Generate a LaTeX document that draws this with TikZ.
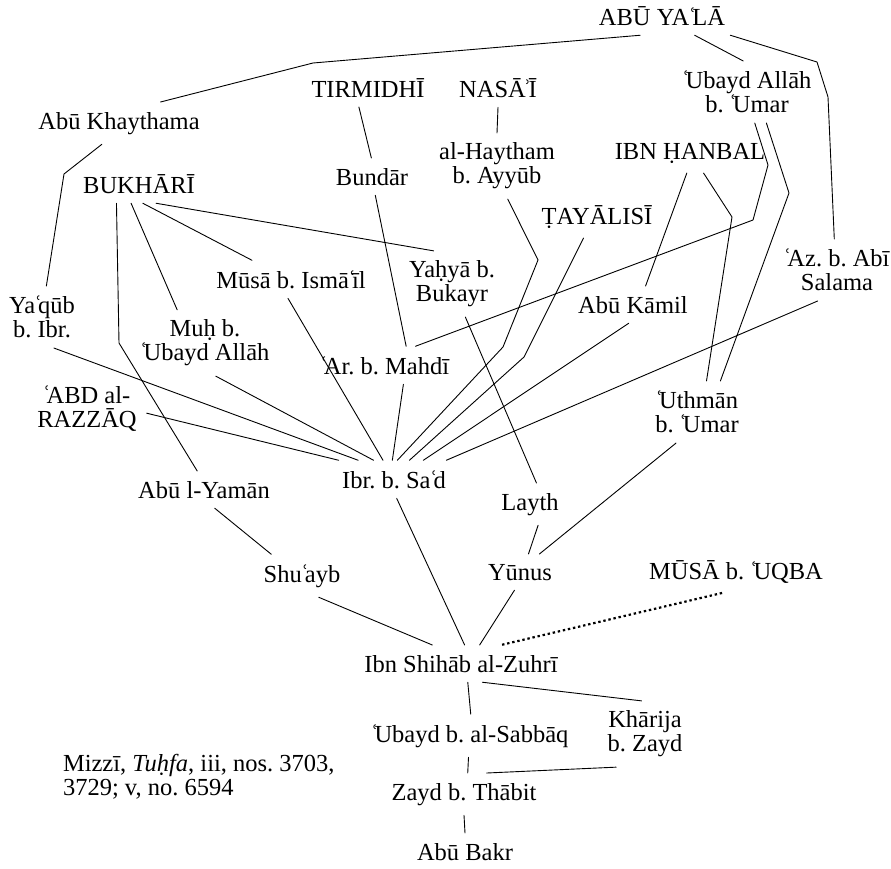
\documentclass[tikz,border=0pt]{standalone}
\usepackage{fontspec}
\setmainfont{Liberation Serif}
\newcommand{\ayn}{\kern-0.04emʿ\kern-0.17em}
\newcommand{\hmz}{\kern-0.1emʾ\kern-0.12em}
\frenchspacing
\begin{document}
\begin{tikzpicture}[
        x=1pt, y=-1pt,
        narrator/.style={font=\fontsize{24.5}{24}\selectfont, inner sep=2pt, outer sep=8pt},
        link/.style={line width=0.9pt, draw=black, line cap=round},
        weak/.style={line width=2.2pt, draw=black, dash pattern=on 2.4pt off 2.8pt}
    ]
        \useasboundingbox (0,0) rectangle (891,868);

        \node[narrator, anchor=base] (abuyala) at (662,25) {ABŪ YA\ayn LĀ};
        \node[narrator, anchor=base] (khaythama) at (119,129) {Abū Khaythama};
        \node[narrator, anchor=base] (tirmidhi) at (368,97) {TIRMIDHĪ};
        \node[narrator, anchor=base] (nasai) at (498,97) {NASĀ\hmz Ī};
        \node[narrator, align=center] (ubaydallah) at (747,92) {\ayn Ubayd Allāh\\b. \ayn Umar};
        \node[narrator, anchor=base] (bundar) at (372,185) {Bundār};
        \node[narrator, align=center] (haytham) at (497,166) {al-Haytham\\b. Ayyūb};
        \node[narrator, anchor=base] (hanbal) at (690,159) {IBN ḤANBAL};
        \node[narrator, anchor=base] (bukhari) at (139,193) {BUKHĀRĪ};
        \node[narrator, anchor=base] (tayalisi) at (597,224) {ṬAYĀLISĪ};
        \node[narrator, anchor=base] (musa) at (291,288) {Mūsā b. Ismā\ayn īl};
        \node[narrator, align=center] (yahya) at (452,284) {Yaḥyā b.\\Bukayr};
        \node[narrator, align=center] (azb) at (837,270) {\ayn Az. b. Abī\\Salama};
        \node[narrator, anchor=base] (kamil) at (633,313) {Abū Kāmil};
        \node[narrator, align=center] (yaqub) at (42,317) {Ya\ayn qūb\\b. Ibr.};
        \node[narrator, align=center] (muh) at (205,343) {Muḥ b.\\\ayn Ubayd Allāh};
        \node[narrator, anchor=base] (mahdi) at (385,374) {\ayn Ar. b. Mahdī};
        \node[narrator, align=center] (razzaq) at (87,409) {\ayn ABD al-\\RAZZĀQ};
        \node[narrator, align=center] (uthman) at (697,412) {\ayn Uthmān\\b. \ayn Umar};
        \node[narrator, anchor=base] (ibr) at (394,488) {Ibr. b. Sa\ayn d};
        \node[narrator, anchor=base] (yaman) at (204,498) {Abū l-Yamān};
        \node[narrator, anchor=base] (layth) at (530,510) {Layth};
        \node[narrator, anchor=base] (shuayb) at (302,582) {Shu\ayn ayb};
        \node[narrator, anchor=base] (yunus) at (520,580) {Yūnus};
        \node[narrator, anchor=base] (uqba) at (736,579) {MŪSĀ b. \ayn UQBA};
        \node[narrator, anchor=base] (zuhri) at (461,672) {Ibn Shihāb al-Zuhrī};
        \node[narrator, anchor=base] (sabbaq) at (470,742) {\ayn Ubayd b. al-Sabbāq};
        \node[narrator, align=center] (kharija) at (645,734) {Khārija\\b. Zayd};
        \node[narrator, anchor=base] (zayd) at (464,800) {Zayd b. Thābit};
        \node[narrator, anchor=base] (abubakr) at (465,860) {Abū Bakr};
        \node[narrator, align=left, anchor=west] (source) at (53,777) {Mizzī, \textit{Tuḥfa}, iii, nos. 3703,\\3729; v, no. 6594};

        % bends
        \coordinate (bend_kh) at (313,63);
        \coordinate (bend_az1) at (817,62);
        \coordinate (bend_az2) at (828,97);
        \coordinate (bend_yq) at (64,174);
        \coordinate (bend_ym) at (119,343);
        \coordinate (bend_um1) at (768,165);
        \coordinate (bend_um2) at (753,220);
        \coordinate (bend_ut) at (789,193);
        \coordinate (bend_hy1) at (538,260);
        \coordinate (bend_hy2) at (503,347);
        \coordinate (bend_ty) at (524,357);
        \coordinate (bend_hb) at (732,217);

        \draw[link] (abuyala.222) -- (bend_kh) -- (khaythama.27);
        \draw[link] (abuyala.329) -- (ubaydallah.97);
        \draw[link] (abuyala.344) -- (bend_az1) -- (bend_az2) -- (azb.95);
        \draw[link] (khaythama.231) -- (bend_yq) -- (yaqub.82);
        \draw[link] (tirmidhi.245) -- (bundar.92);
        \draw[link] (nasai.south) -- (haytham.north);

        \draw[link] (bukhari.221) -- (bend_ym) -- (yaman.110);
        \draw[link] (bukhari.248) -- (muh.130);
        \draw[link] (bukhari.281) -- (musa.154);
        \draw[link] (bukhari.311) -- (yahya.119);

        \draw[link] (bundar.280) -- (mahdi.42);
        \draw[link] (ubaydallah.284) -- (bend_um1) -- (bend_um2) -- (mahdi.32);
        \draw[link] (ubaydallah.302) -- (bend_ut) -- (uthman.53);
        \draw[link] (haytham.288) -- (bend_hy1) -- (bend_hy2) -- (ibr.80);
        \draw[link] (tayalisi.238) -- (bend_ty) -- (ibr.51);
        \draw[link] (hanbal.261) -- (kamil.56);
        \draw[link] (hanbal.304) -- (bend_hb) -- (uthman.73);

        \draw[link] (mahdi.314) -- (ibr.95);
        \draw[link] (azb.238) -- (ibr.20);
        \draw[link] (kamil.257) -- (ibr.33);
        \draw[link] (musa.261) -- (ibr.120);
        \draw[link] (muh.288) -- (ibr.137);
        \draw[link] (yaqub.291) -- (ibr.152);
        \draw[link] (razzaq.356) -- (ibr.161);
        \draw[link] (yahya.292) -- (layth.73);

        \draw[link] (yaman.300) -- (shuayb.145);
        \draw[link] (shuayb.308) -- (zuhri.147);
        \draw[link] (ibr.278) -- (zuhri.79);
        \draw[link] (layth.291) -- (yunus.65);
        \draw[link] (uthman.236) -- (yunus.43);
        \draw[link] (yunus.253) -- (zuhri.45);
        \draw[weak] (uqba.237) -- (zuhri.25);

        \draw[link] (zuhri.290) -- (sabbaq.88);
        \draw[link] (zuhri.319) -- (kharija.96);
        \draw[link] (sabbaq.266) -- (zayd.80);
        \draw[link] (kharija.229) -- (zayd.43);
        \draw[link] (zayd.south) -- (abubakr.north);
    \end{tikzpicture}
\end{document}
